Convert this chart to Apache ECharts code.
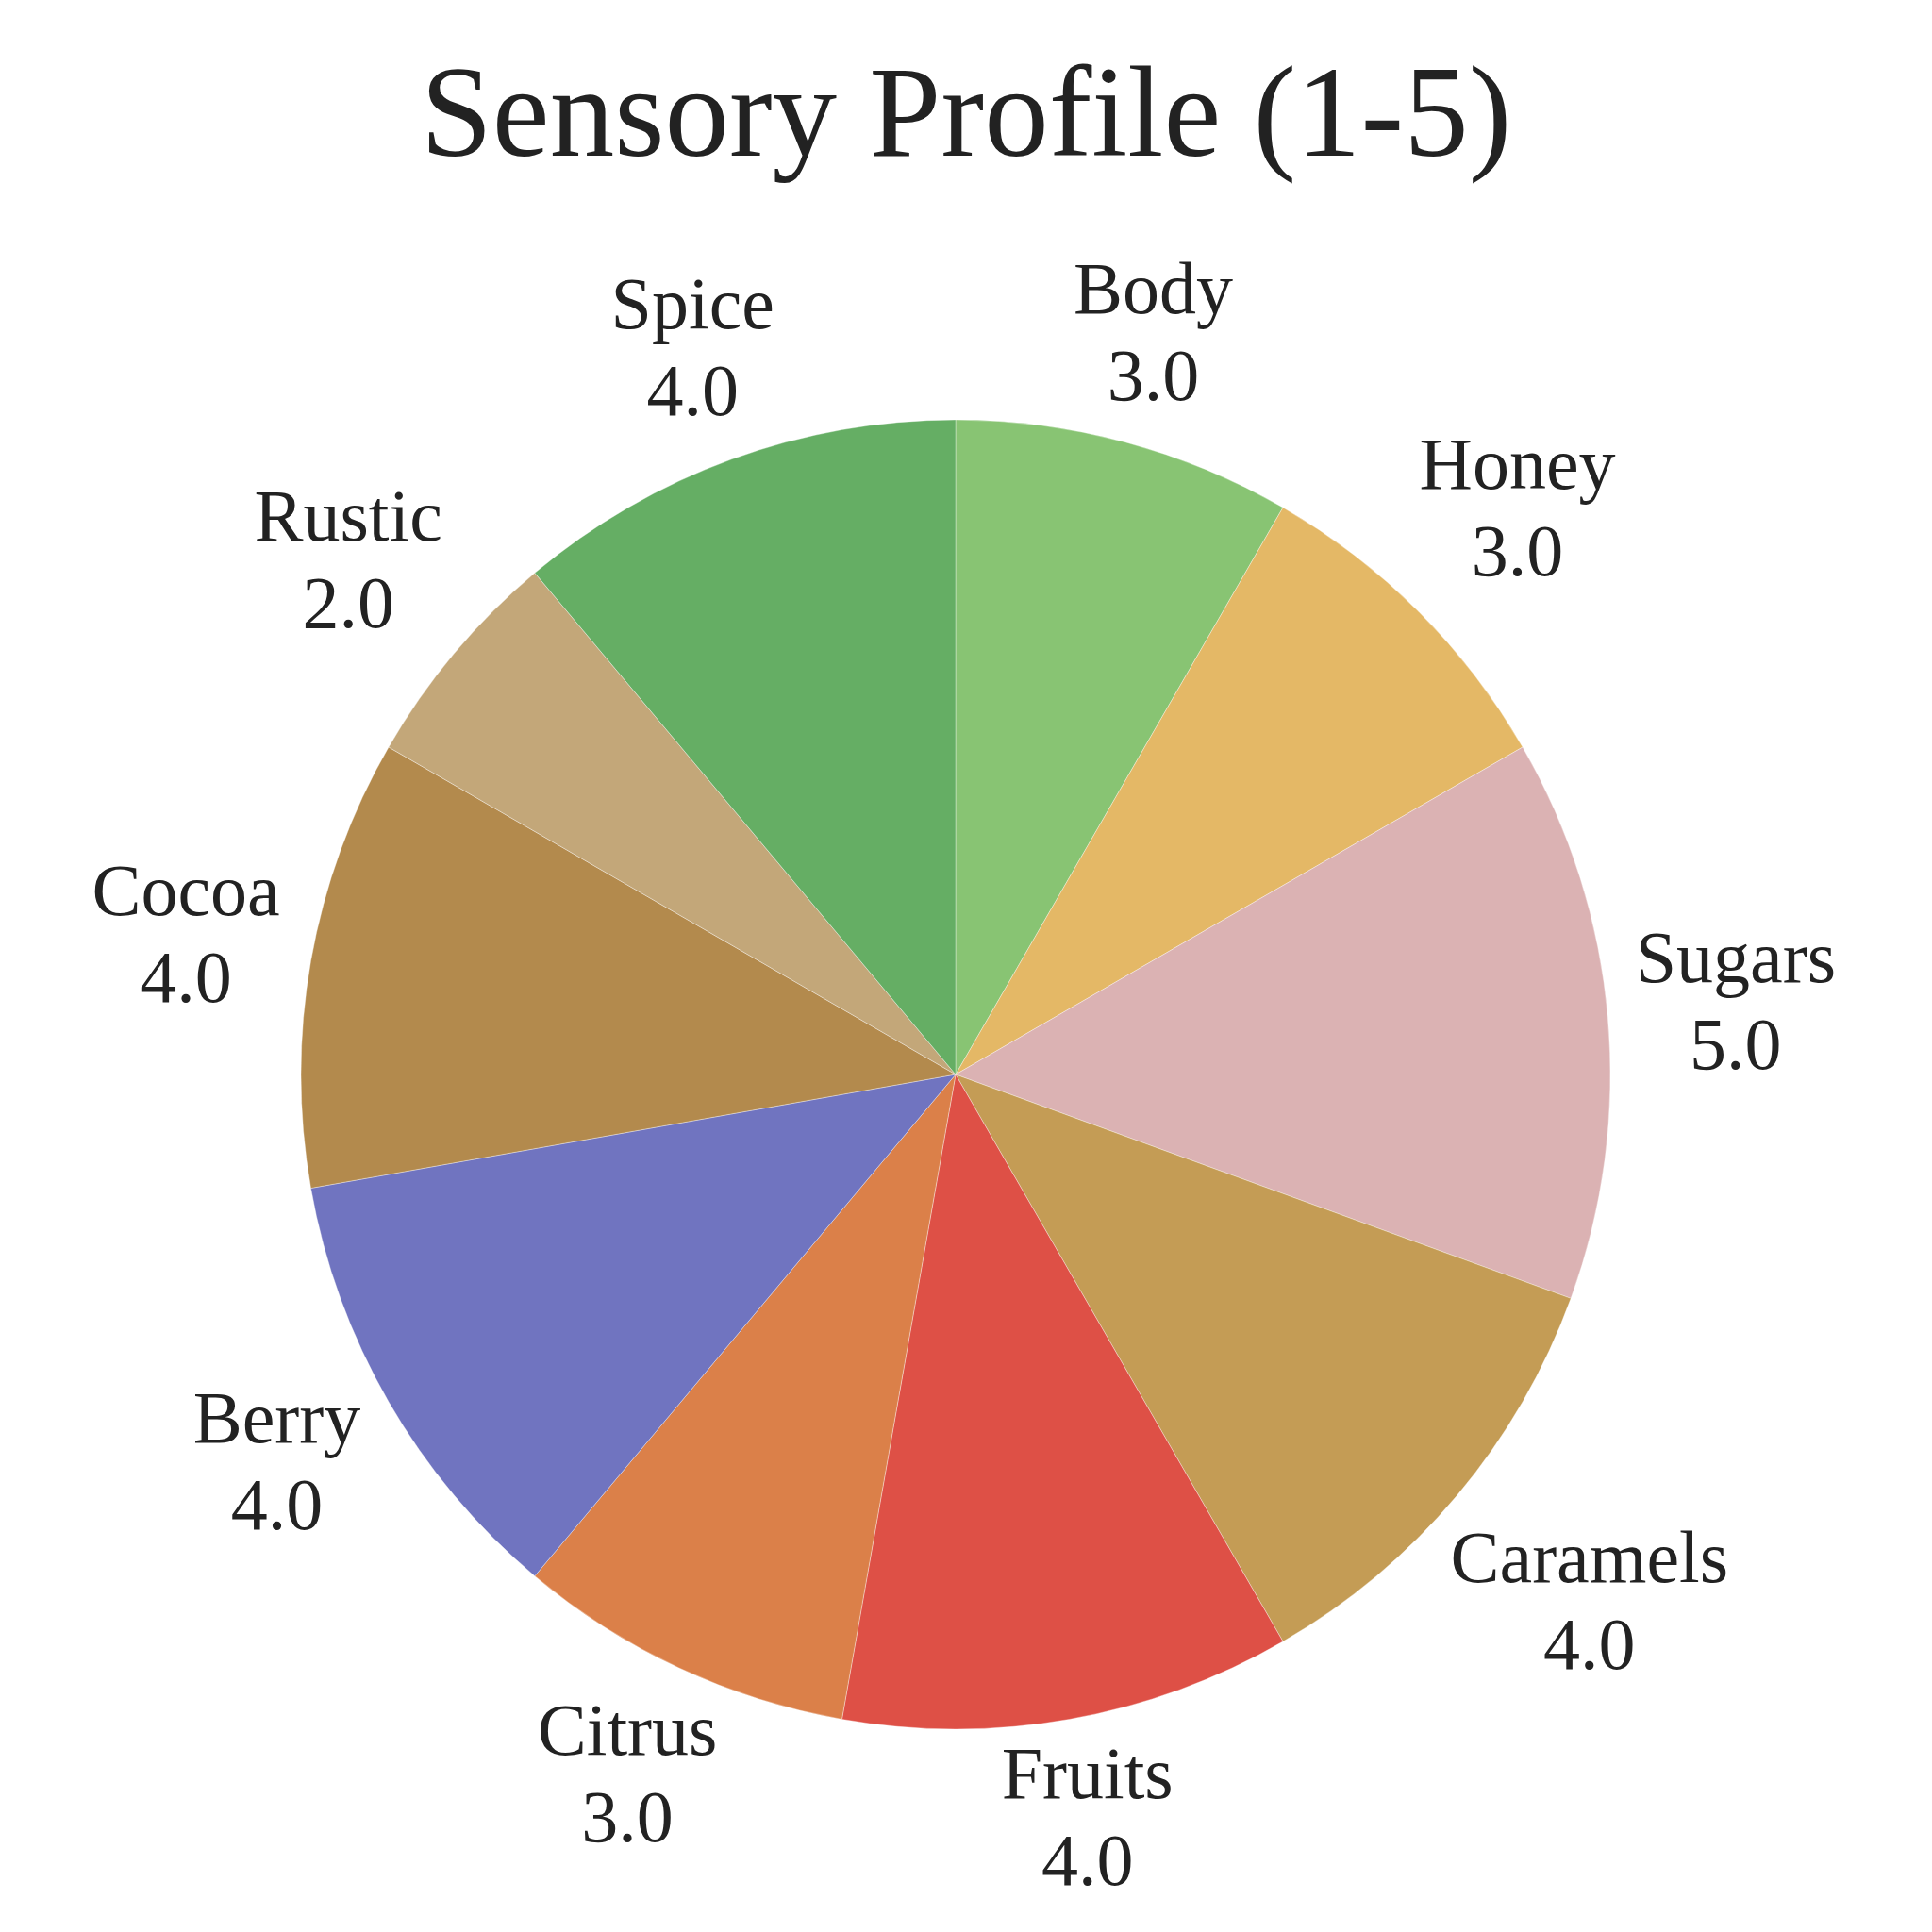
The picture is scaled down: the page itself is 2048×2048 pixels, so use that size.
<!DOCTYPE html>
<html>
<head>
<meta charset="utf-8">
<script src="https://cdn.jsdelivr.net/npm/echarts@6/dist/echarts.min.js"></script>
<style>html,body{margin:0;padding:0;background:#fff}#c{width:2048px;height:2048px}</style>
</head>
<body>
<div id="c"></div>
<script>
const categories = ['Body','Honey','Sugars','Caramels','Fruits','Citrus','Berry','Cocoa','Rustic','Spice'];
const values = [3,3,5,4,4,3,4,4,2,4];
const colors = ['#88c473','#e4b866','#dbb2b3','#c49c55','#de5046','#db8049','#7074c0','#b38a4d','#c3a779','#65ae64'];
const titleText = 'Sensory Profile (1-5)';

const FONT = '"Liberation Serif", "DejaVu Serif", serif';
const CENTER = [1013, 1139];
const RADIUS = 694;
const LABEL_GAP = 24;

const total = values.reduce((a, b) => a + b, 0);
const cum = [];
values.reduce((acc, v, i) => { cum[i] = acc; return acc + v; }, 0);

const pieData = categories.map((n, i) => ({ name: n, value: values[i], itemStyle: { color: colors[i] } }));

const chart = echarts.init(document.getElementById('c'), null, { renderer: 'canvas' });
chart.setOption({
  backgroundColor: '#ffffff',
  animation: false,
  title: {
    text: titleText,
    left: 'center',
    top: 56,
    textStyle: { fontFamily: FONT, fontSize: 137, fontWeight: 'normal', color: '#222222', lineHeight: 137 }
  },
  series: [
    {
      type: 'pie',
      center: CENTER,
      radius: [0, RADIUS],
      startAngle: 90,
      clockwise: true,
      silent: true,
      avoidLabelOverlap: false,
      data: pieData,
      itemStyle: { borderColor: 'rgba(255,255,255,0.35)', borderWidth: 1 },
      label: {
        show: true,
        position: 'outside',
        formatter: p => p.name + '\n' + p.value.toFixed(1),
        fontFamily: FONT,
        fontSize: 78,
        lineHeight: 92,
        color: '#222222',
        align: 'center'
      },
      labelLine: { show: false },
      labelLayout: function (p) {
        const i = p.dataIndex;
        const mid = (cum[i] + values[i] / 2) / total * Math.PI * 2;
        const s = Math.sin(mid), c = Math.cos(mid);
        const hw = p.labelRect.width / 2, hh = p.labelRect.height * 0.39;
        const r = RADIUS + LABEL_GAP + hw * Math.abs(s) + hh * Math.abs(c);
        return { x: CENTER[0] + r * s, y: CENTER[1] - r * c, align: 'center', verticalAlign: 'middle' };
      }
    }
  ]
});
</script>
</body>
</html>
